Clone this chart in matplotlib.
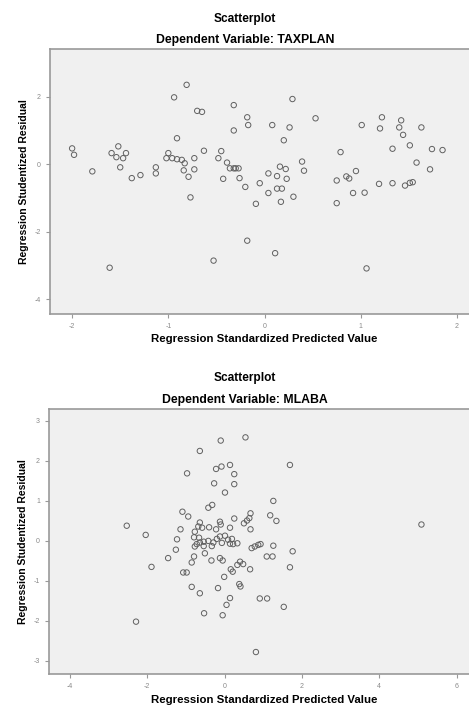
import numpy as np
import matplotlib.pyplot as plt

plt.rcParams['font.family'] = ['Liberation Sans', 'DejaVu Sans']

# Model 1: dependent variable TAXPLAN
tax_pred = [-2.00, -1.98, -1.79, -1.52, -1.59, -1.54, -1.47, -1.44, -1.50, -1.38,
            -1.29, -1.13, -1.13, -0.94, -0.81, -0.91, -0.70, -0.65, -1.00, -1.02,
            -0.96, -0.91, -0.86, -0.83, -0.84, -0.79, -0.77, -0.73, -0.73, -0.63,
            -0.48, -0.45, -0.39, -0.36, -0.32, -0.30, -0.27, -0.43, -0.26, -0.32,
            -0.32, -0.18, -0.17, -0.20, -0.09, -0.05, 0.04, 0.04, 0.08, 0.13,
            0.16, 0.22, 0.23, 0.13, 0.18, 0.17, 0.30, 0.20, 0.26, 0.29,
            0.39, 0.41, 0.53, -0.18, 0.11, -0.53, -1.61, 1.06, 0.79, 0.75,
            0.85, 0.88, 0.95, 0.92, 1.04, 0.75, 1.01, 1.20, 1.22, 1.19,
            1.33, 1.42, 1.40, 1.44, 1.63, 1.33, 1.51, 1.74, 1.85, 1.58,
            1.72, 1.46, 1.51, 1.54]
tax_resid = [0.47, 0.28, -0.21, 0.53, 0.33, 0.21, 0.18, 0.33, -0.09, -0.41,
             -0.32, -0.09, -0.27, 1.98, 2.35, 0.77, 1.58, 1.55, 0.33, 0.18,
             0.18, 0.15, 0.13, 0.03, -0.18, -0.37, -0.98, 0.18, -0.15, 0.40,
             0.18, 0.39, 0.05, -0.12, -0.12, -0.12, -0.12, -0.43, -0.41, 1.75,
             1.00, 1.39, 1.16, -0.67, -1.17, -0.56, -0.27, -0.85, 1.16, -0.35,
             -0.07, -0.14, -0.43, -0.72, -0.72, -1.11, -0.96, 0.71, 1.09, 1.93,
             0.08, -0.19, 1.36, -2.26, -2.63, -2.85, -3.06, -3.08, 0.36, -0.48,
             -0.36, -0.42, -0.20, -0.85, -0.84, -1.15, 1.16, 1.06, 1.39, -0.58,
             -0.56, 1.30, 1.09, 0.87, 1.09, 0.46, 0.56, 0.45, 0.42, 0.05,
             -0.15, -0.63, -0.55, -0.53]

# Model 2: dependent variable MLABA
mlaba_pred = [-0.10, 0.54, -0.64, 1.69, -0.97, -0.22, -0.08, 0.14, 0.25, -0.27,
              0.25, 0.01, 1.26, -0.42, -0.32, -1.09, -0.94, 0.67, 0.64, 0.25,
              1.18, 1.34, -0.64, -0.68, -0.12, -0.10, 0.50, 0.58, -1.14, -0.40,
              -0.22, 0.14, 0.67, -2.53, 5.09, -0.77, -2.04, -0.79, -1.23, -0.72,
              -0.64, -0.54, -0.42, -0.29, -0.77, -0.12, 0.01, 0.09, 0.19, 0.14,
              0.22, 0.33, -0.07, -0.33, 0.70, 0.78, 0.87, 0.93, 1.26, -1.26,
              1.76, -1.46, -0.51, -0.79, -0.85, -0.34, -0.12, -0.05, 1.09, 1.24,
              0.16, 0.21, 0.40, 0.33, 0.48, 0.66, 1.69, -1.89, -1.07, -0.98,
              -0.01, 0.38, 0.41, -0.85, -0.17, -0.64, 0.14, 0.05, -0.53, -0.05,
              -2.29, 0.81, 0.91, 1.10, 1.53, -0.58, -0.66, -0.20, -0.54]
mlaba_resid = [2.51, 2.59, 2.25, 1.90, 1.69, 1.80, 1.86, 1.90, 1.67, 1.44,
               1.42, 1.21, 1.00, 0.83, 0.90, 0.73, 0.61, 0.69, 0.57, 0.56,
               0.64, 0.50, 0.46, 0.36, 0.48, 0.41, 0.44, 0.51, 0.29, 0.34,
               0.29, 0.33, 0.29, 0.38, 0.41, 0.23, 0.15, 0.09, 0.04, -0.08,
               -0.04, -0.02, 0.00, -0.04, -0.14, 0.11, 0.13, 0.03, 0.05, -0.07,
               -0.08, -0.06, -0.05, -0.13, -0.18, -0.14, -0.10, -0.08, -0.12, -0.22,
               -0.26, -0.43, -0.31, -0.39, -0.54, -0.49, -0.43, -0.49, -0.39, -0.39,
               -0.71, -0.77, -0.52, -0.60, -0.58, -0.71, -0.66, -0.65, -0.79, -0.79,
               -0.90, -1.08, -1.14, -1.15, -1.18, -1.31, -1.43, -1.60, -1.81, -1.86,
               -2.02, -2.78, -1.44, -1.44, -1.65, 0.33, 0.08, 0.05, -0.13]

fig = plt.figure(figsize=(4.69, 7.06), dpi=100)

panels = [
    # axes rect, x, y, xlim, ylim, xticks, yticks, dependent name, text heights
    ([0.1066, 0.5552, 0.8934, 0.3754], tax_pred, tax_resid, (-2.23, 2.125), (-4.43, 3.41),
     [-2, -1, 0, 1, 2], [-4, -2, 0, 2], 'TAXPLAN', 1 - 19 / 706, 1 - 40 / 706, 1 - 339 / 706),
    ([0.1045, 0.0453, 0.8955, 0.3754], mlaba_pred, mlaba_resid, (-4.54, 6.32), (-3.33, 3.30),
     [-4, -2, 0, 2, 4, 6], [-3, -2, -1, 0, 1, 2, 3], 'MLABA', 1 - 378 / 706, 1 - 400 / 706, 1 - 700 / 706),
]

for rect, xs, ys, xl, yl, xt, yt, dep, ty1, ty2, xly in panels:
    ax = fig.add_axes(rect)
    ax.set_facecolor('#f0f0f0')
    ax.scatter(xs, ys, s=15, facecolors='none', edgecolors='#606060', linewidths=0.7)
    ax.set_xlim(*xl)
    ax.set_ylim(*yl)
    ax.set_xticks(xt)
    ax.set_yticks(yt)
    ax.set_xticklabels([str(v).replace('\u2212', '-') for v in xt])
    ax.set_yticklabels([str(v) for v in yt])
    ax.tick_params(colors='#999999', labelcolor='#8a8a8a', labelsize=5, length=3, width=0.8)
    for side in ['left', 'bottom', 'top']:
        ax.spines[side].set_color('#999999')
        ax.spines[side].set_linewidth(1.2)
    ax.spines['right'].set_visible(False)
    ax.set_ylabel('Regression Studentized Residual', fontsize=7.5, fontweight='bold', labelpad=4)

    fig.text(245 / 469, ty1, 'Scatterplot', ha='center', va='center', fontsize=8.6, fontweight='bold')
    fig.text(245 / 469, ty2, 'Dependent Variable: ' + dep, ha='center', va='center',
             fontsize=8.8, fontweight='bold')
    fig.text(264 / 469, xly, 'Regression Standardized Predicted Value', ha='center', va='center',
             fontsize=8.2, fontweight='bold')

fig.savefig('out.png', dpi=100, facecolor='white')
